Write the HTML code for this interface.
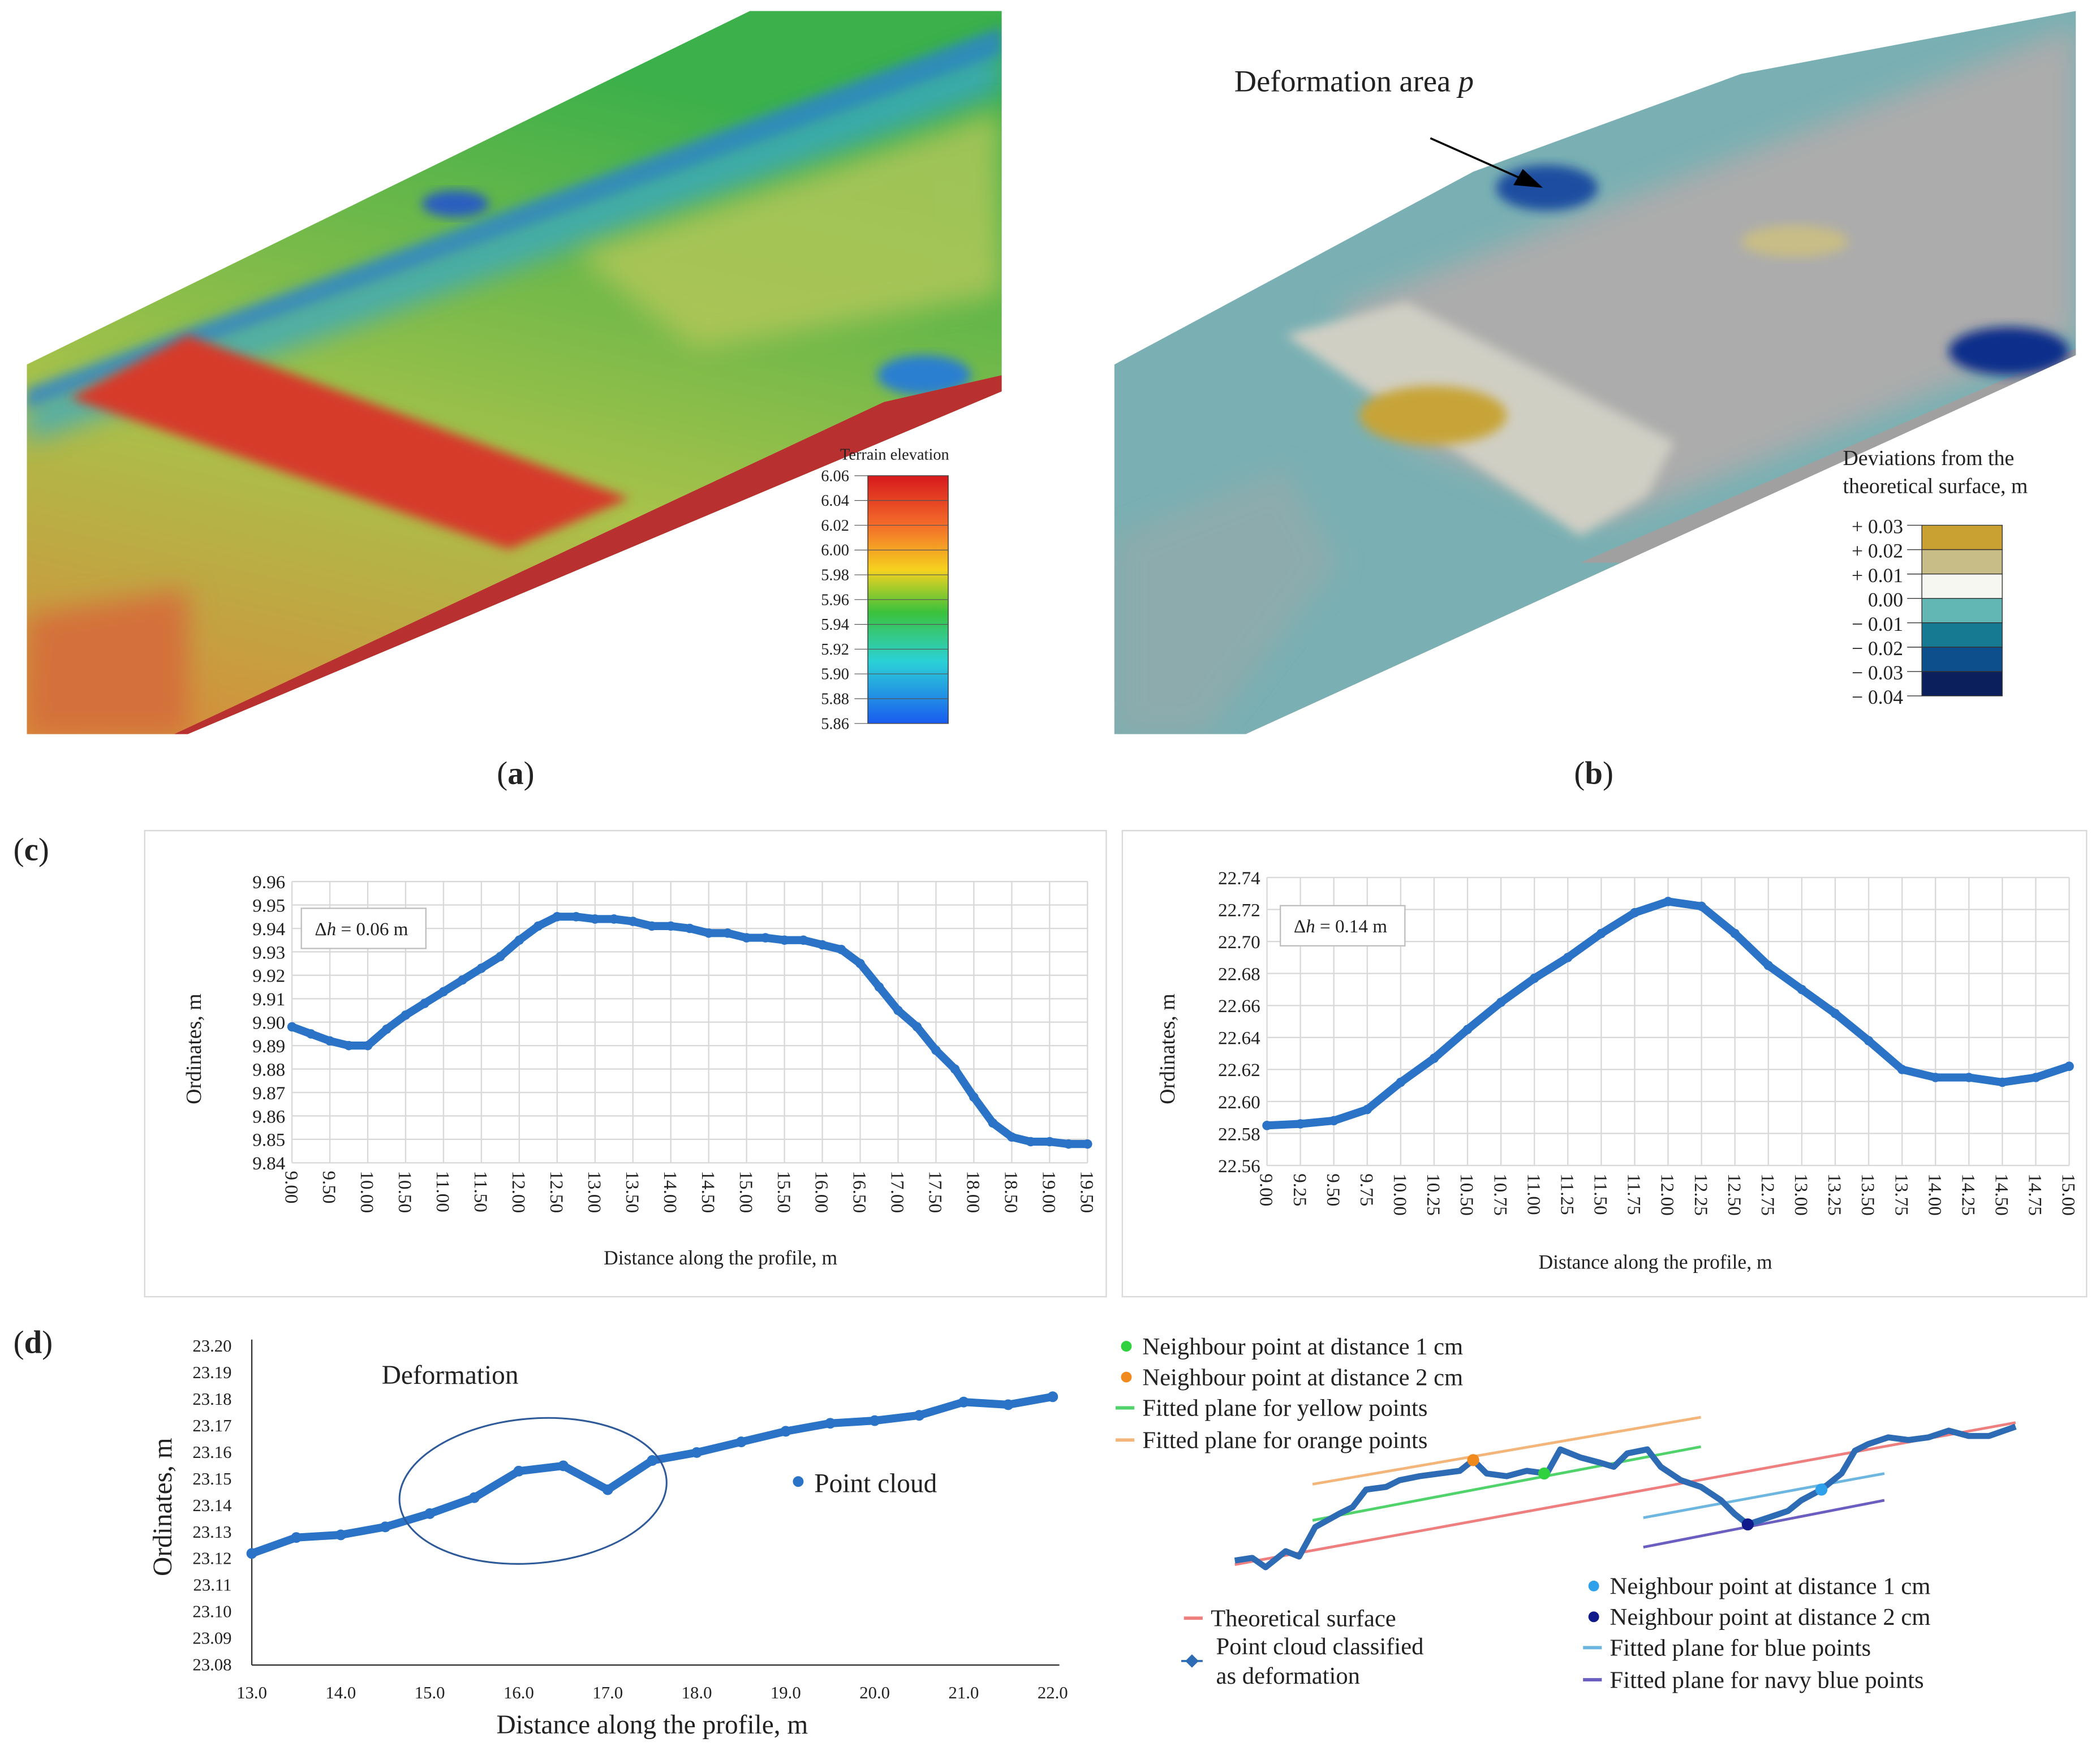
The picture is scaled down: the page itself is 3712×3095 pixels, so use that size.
<!DOCTYPE html>
<html><head><meta charset="utf-8"><style>
html,body{margin:0;padding:0;background:#fff}
svg{display:block}
text{font-family:"Liberation Serif",serif;fill:#222}
</style></head><body>
<svg id="root" width="3712" height="3095" viewBox="0 0 1568 1307" xmlns="http://www.w3.org/2000/svg">
<defs>
<filter id="bl" x="-20%" y="-20%" width="140%" height="140%"><feGaussianBlur stdDeviation="10"/></filter>
<filter id="bl2" x="-20%" y="-20%" width="140%" height="140%"><feGaussianBlur stdDeviation="4"/></filter>
<clipPath id="clipA"><polygon points="20,272 560,8 748,8 748,292 140,548 20,548"/></clipPath>
<clipPath id="clipB"><polygon points="832,272 1100,128 1300,55 1550,8 1550,265 930,548 832,548"/></clipPath>
<linearGradient id="gA" x1="0" y1="1" x2="0.3" y2="0"><stop offset="0" stop-color="#d98a3a"/><stop offset="0.45" stop-color="#a8c24a"/><stop offset="1" stop-color="#3cb04a"/></linearGradient>
<linearGradient id="cbar" x1="0" y1="0" x2="0" y2="1"><stop offset="0" stop-color="#d7191c"/><stop offset="0.2" stop-color="#f46d2a"/><stop offset="0.38" stop-color="#f5d21e"/><stop offset="0.55" stop-color="#3cc23c"/><stop offset="0.75" stop-color="#2bd1d6"/><stop offset="1" stop-color="#1a5cf0"/></linearGradient>
</defs>

<!-- Panel a -->
<g clip-path="url(#clipA)">
<rect x="20" y="8" width="728" height="540" fill="url(#gA)"/>
<polygon points="20,300 748,30 748,70 20,330" fill="#3aa9c4" filter="url(#bl)" opacity="0.8"/>
<polygon points="20,290 748,20 748,40 20,305" fill="#2c7fd0" filter="url(#bl2)" opacity="0.7"/>
<ellipse cx="340" cy="152" rx="25" ry="10" fill="#2b5fc0" filter="url(#bl2)"/>
<ellipse cx="690" cy="280" rx="35" ry="15" fill="#2b7fd0" filter="url(#bl2)"/>
<polygon points="430,190 748,80 748,220 520,260" fill="#b7c85a" filter="url(#bl)" opacity="0.8"/>
<polygon points="52,297 140,250 470,372 380,410" fill="#d63a2a" filter="url(#bl2)"/>
<polygon points="20,460 140,440 140,548 20,548" fill="#d4703a" filter="url(#bl)"/>
<polygon points="130,548 210,548 748,305 748,280 660,300" fill="#b83030"/>
</g>
<g>
<text x="668" y="343" font-size="12" text-anchor="middle" fill="#1f3f7a">Terrain elevation</text>
<rect x="648" y="355" width="60" height="185" fill="url(#cbar)" stroke="#333" stroke-width="0.6"/>
<g id="cbarTicks"></g>
</g>
<text x="385" y="585" font-size="24" text-anchor="middle">(<tspan font-weight="bold">a</tspan>)</text>

<!-- Panel b -->
<g clip-path="url(#clipB)">
<rect x="832" y="8" width="718" height="540" fill="#7ab0b3"/>
<polygon points="1000,230 1550,20 1550,250 1200,390 1050,330" fill="#acacac" filter="url(#bl)"/>
<polygon points="832,400 960,350 1000,420 900,548 832,548" fill="#9aa9a9" filter="url(#bl)" opacity="0.6"/>
<polygon points="1180,420 1550,260 1550,265 1250,420" fill="#a0a0a0"/>
<polygon points="960,250 1050,225 1250,330 1230,370 1180,400" fill="#d0cfc4" filter="url(#bl2)"/>
<ellipse cx="1070" cy="310" rx="55" ry="22" fill="#c8a438" filter="url(#bl2)"/>
<ellipse cx="1155" cy="140" rx="38" ry="17" fill="#1a4ea0" filter="url(#bl2)"/>
<ellipse cx="1500" cy="262" rx="45" ry="18" fill="#0d2e8a" filter="url(#bl2)"/>
<ellipse cx="1340" cy="180" rx="40" ry="12" fill="#c8bd86" filter="url(#bl2)"/>
<polygon points="930,548 1550,265 1550,280 980,548" fill="#b89a50"/>
</g>
<text x="1011" y="68" font-size="23" text-anchor="middle">Deformation area <tspan font-style="italic">p</tspan></text>
<line x1="1068" y1="103" x2="1140" y2="135" stroke="#000" stroke-width="1.5"/>
<polygon points="1152,140 1130,138 1137,126" fill="#000"/>
<g>
<text x="1376" y="347" font-size="16">Deviations from the</text>
<text x="1376" y="368" font-size="16">theoretical surface, m</text>
<g id="devLegend"></g>
</g>
<text x="1190" y="585" font-size="24" text-anchor="middle">(<tspan font-weight="bold">b</tspan>)</text>

<!-- Panel c -->
<text x="10" y="642" font-size="24">(<tspan font-weight="bold">c</tspan>)</text>
<rect x="108" y="620" width="718" height="348" fill="#fff" stroke="#d9d9d9"/>
<rect x="838" y="620" width="720" height="348" fill="#fff" stroke="#d9d9d9"/>
<g id="chartC1"></g>
<g id="chartC2"></g>

<!-- Panel d -->
<text x="10" y="1010" font-size="24">(<tspan font-weight="bold">d</tspan>)</text>
<g id="chartD"></g>
<g id="schematic"></g>
</svg>
<script>
// ---- data ----
const c1X = [9.0,9.25,9.5,9.75,10.0,10.25,10.5,10.75,11.0,11.25,11.5,11.75,12.0,12.25,12.5,12.75,13.0,13.25,13.5,13.75,14.0,14.25,14.5,14.75,15.0,15.25,15.5,15.75,16.0,16.25,16.5,16.75,17.0,17.25,17.5,17.75,18.0,18.25,18.5,18.75,19.0,19.25,19.5];
const c1Y = [9.898,9.895,9.892,9.890,9.890,9.897,9.903,9.908,9.913,9.918,9.923,9.928,9.935,9.941,9.945,9.945,9.944,9.944,9.943,9.941,9.941,9.940,9.938,9.938,9.936,9.936,9.935,9.935,9.933,9.931,9.925,9.915,9.905,9.898,9.888,9.880,9.868,9.857,9.851,9.849,9.849,9.848,9.848];
const c1XTicks = ["9.00","9.50","10.00","10.50","11.00","11.50","12.00","12.50","13.00","13.50","14.00","14.50","15.00","15.50","16.00","16.50","17.00","17.50","18.00","18.50","19.00","19.50"];
const c1YTicks = ["9.84","9.85","9.86","9.87","9.88","9.89","9.90","9.91","9.92","9.93","9.94","9.95","9.96"];
const c2X = [9.0,9.25,9.5,9.75,10.0,10.25,10.5,10.75,11.0,11.25,11.5,11.75,12.0,12.25,12.5,12.75,13.0,13.25,13.5,13.75,14.0,14.25,14.5,14.75,15.0];
const c2Y = [22.585,22.586,22.588,22.595,22.612,22.627,22.645,22.662,22.677,22.690,22.705,22.718,22.725,22.722,22.705,22.685,22.670,22.655,22.638,22.620,22.615,22.615,22.612,22.615,22.622];
const c2XTicks = ["9.00","9.25","9.50","9.75","10.00","10.25","10.50","10.75","11.00","11.25","11.50","11.75","12.00","12.25","12.50","12.75","13.00","13.25","13.50","13.75","14.00","14.25","14.50","14.75","15.00"];
const c2YTicks = ["22.56","22.58","22.60","22.62","22.64","22.66","22.68","22.70","22.72","22.74"];
const dX = [13.0,13.5,14.0,14.5,15.0,15.5,16.0,16.5,17.0,17.5,18.0,18.5,19.0,19.5,20.0,20.5,21.0,21.5,22.0];
const dY = [23.122,23.128,23.129,23.132,23.137,23.143,23.153,23.155,23.146,23.157,23.160,23.164,23.168,23.171,23.172,23.174,23.179,23.178,23.181];
const dXTicks = ["13.0","14.0","15.0","16.0","17.0","18.0","19.0","20.0","21.0","22.0"];
const dYTicks = ["23.08","23.09","23.10","23.11","23.12","23.13","23.14","23.15","23.16","23.17","23.18","23.19","23.20"];
const elevLabels = ["6.06","6.04","6.02","6.00","5.98","5.96","5.94","5.92","5.90","5.88","5.86"];
const devLabels = ["+ 0.03","+ 0.02","+ 0.01","0.00","\u2212 0.01","\u2212 0.02","\u2212 0.03","\u2212 0.04"];
const devColors = ["#c9a032","#c8bd86","#f7f7f2","#62b6b4","#167a92","#0c4f8c","#0a1f5c"];

const NS="http://www.w3.org/2000/svg";
function mk(tag,attrs,parent){const e=document.createElementNS(NS,tag);for(const k in attrs)e.setAttribute(k,attrs[k]);parent.appendChild(e);return e;}
function txt(s,attrs,parent){const e=mk('text',attrs,parent);e.textContent=s;return e;}

const cbt=document.getElementById('cbarTicks');
elevLabels.forEach((l,i)=>{const y=355+i*18.5;
 const t=txt(l,{x:634,y:y+4,'font-size':12,'text-anchor':'end',fill:'#1f3f7a'},cbt);
 
 
 mk('line',{x1:638,y1:y,x2:708,y2:y,stroke:'#555','stroke-width':0.5},cbt);});
const dl=document.getElementById('devLegend');
devColors.forEach((c,i)=>{const r=mk('rect',{x:1435,y:392+i*18.2,width:60,height:18.2,fill:c,stroke:'#333','stroke-width':0.6},dl);
 
 });
devLabels.forEach((l,i)=>{const t=txt(l,{x:1421,y:398+i*18.2,'font-size':15,'text-anchor':'end'},dl);
 
 
 mk('line',{x1:1424,y1:392+i*18.2,x2:1435,y2:392+i*18.2,stroke:'#333','stroke-width':0.6},dl);});

function gridChart(g,o){
 const xs=v=>o.x0+(v-o.xmin)/(o.xmax-o.xmin)*(o.x1-o.x0);
 const ys=v=>o.y0-(v-o.ymin)/(o.ymax-o.ymin)*(o.y0-o.y1);
 o.yTicks.forEach(l=>{const y=ys(parseFloat(l));
  mk('line',{x1:o.x0,y1:y,x2:o.x1,y2:y,stroke:'#d9d9d9','stroke-width':1},g);
  const t=txt(l,{x:o.x0-5,y:y+5,'font-size':14,'text-anchor':'end'},g);
  
  });
 o.xTicks.forEach(l=>{const x=xs(parseFloat(l));
  mk('line',{x1:x,y1:o.y1,x2:x,y2:o.y0,stroke:'#d9d9d9','stroke-width':1},g);
  const t=txt(l,{x:x-5,y:o.y0+6,'font-size':14,'text-anchor':'start',transform:`rotate(90 ${x-5} ${o.y0+6})`},g);
  
  });
 const pts=o.X.map((v,i)=>xs(v)+','+ys(o.Y[i])).join(' ');
 const pl=mk('polyline',{points:pts,fill:'none',stroke:'#2a73c6','stroke-width':6,'stroke-linejoin':'round','stroke-linecap':'round'},g);
 
 
 o.X.forEach((v,i)=>{const c=mk('circle',{cx:xs(v),cy:ys(o.Y[i]),r:3.5,fill:'#2a73c6'},g);
  
  });
 const b=mk('rect',{x:o.bx,y:o.by,width:93,height:30,fill:'#fff',stroke:'#bfbfbf'},g);
 
 
 const dt=txt('',{x:o.bx+10,y:o.by+20,'font-size':14},g);
 dt.innerHTML='Δ<tspan font-style="italic">h</tspan> = '+o.dh+' m';
 const yl=txt('Ordinates, m',{x:o.ylx,y:783,'font-size':16,'text-anchor':'middle',transform:`rotate(-90 ${o.ylx} 783)`},g);
 
 
 const xl=txt('Distance along the profile, m',{x:o.xlx,y:o.xly,'font-size':15,'text-anchor':'middle'},g);
 
 
}
gridChart(document.getElementById('chartC1'),{X:c1X,Y:c1Y,xTicks:c1XTicks,yTicks:c1YTicks,xmin:9,xmax:19.5,ymin:9.84,ymax:9.96,x0:218,x1:812,y0:868,y1:658,bx:225,by:678,dh:'0.06',ylx:150,xlx:538,xly:944});
gridChart(document.getElementById('chartC2'),{X:c2X,Y:c2Y,xTicks:c2XTicks,yTicks:c2YTicks,xmin:9,xmax:15,ymin:22.56,ymax:22.74,x0:946,x1:1545,y0:870,y1:655,bx:956,by:676,dh:'0.14',ylx:877,xlx:1236,xly:947});

(function(){
 const g=document.getElementById('chartD');
 const x0=188,x1=786,y0=1243,y1=1005;
 const xs=v=>x0+(v-13)/(22-13)*(x1-x0);
 const ys=v=>y0-(v-23.08)/(0.12)*(y0-y1);
 mk('line',{x1:x0,y1:y1-5,x2:x0,y2:y0,stroke:'#333','stroke-width':1},g);
 mk('line',{x1:x0,y1:y0,x2:x1+5,y2:y0,stroke:'#333','stroke-width':1},g);
 dYTicks.forEach(l=>{const t=txt(l,{x:x0-15,y:ys(parseFloat(l))+4,'font-size':13,'text-anchor':'end'},g);
  
  });
 dXTicks.forEach(l=>{const t=txt(l,{x:xs(parseFloat(l)),y:y0+25,'font-size':13,'text-anchor':'middle'},g);
  
  });
 const pl=mk('polyline',{points:dX.map((v,i)=>xs(v)+','+ys(dY[i])).join(' '),fill:'none',stroke:'#2a73c6','stroke-width':6,'stroke-linejoin':'round'},g);
 
 
 dX.forEach((v,i)=>{const c=mk('circle',{cx:xs(v),cy:ys(dY[i]),r:4,fill:'#2a73c6'},g);
  
  });
 const e=mk('ellipse',{cx:398,cy:1113,rx:100,ry:54,fill:'none',stroke:'#2e5a9a','stroke-width':1.3,transform:'rotate(-5 398 1113)'},g);
 
 
 txt('Deformation',{x:285,y:1033,'font-size':20},g);
 mk('circle',{cx:596,cy:1106,r:4,fill:'#2a73c6'},g);
 const lg=txt('Point cloud',{x:608,y:1114,'font-size':20},g);
 
 
 const yl=txt('Ordinates, m',{x:128,y:1125,'font-size':20,'text-anchor':'middle',transform:'rotate(-90 128 1125)'},g);
 
 
 const xl=txt('Distance along the profile, m',{x:487,y:1294,'font-size':20,'text-anchor':'middle'},g);
 
 
})();

(function(){
 const g=document.getElementById('schematic');
 const lines=[["#f3b57a",980,1108,1270,1058],["#4fd36a",980,1135,1270,1080],["#ef7f7f",922,1168,1505,1062],["#6cb6e0",1227,1133,1407,1100],["#6a5fc0",1227,1155,1407,1120]];
 lines.forEach(l=>{const e=mk('line',{x1:l[1],y1:l[2],x2:l[3],y2:l[4],stroke:l[0],'stroke-width':2},g);
  
  });
 const cloud="922,1165 935,1163 945,1170 960,1158 970,1162 982,1140 1000,1130 1010,1125 1020,1112 1035,1110 1045,1105 1060,1102 1075,1100 1090,1098 1100,1090 1110,1100 1125,1102 1140,1098 1155,1100 1165,1082 1180,1088 1195,1092 1205,1095 1215,1085 1230,1082 1240,1095 1255,1105 1270,1110 1285,1120 1295,1130 1305,1138 1320,1133 1335,1128 1345,1120 1360,1112 1375,1100 1385,1083 1395,1078 1410,1073 1425,1075 1440,1073 1455,1068 1470,1072 1485,1072 1505,1065";
 const pl=mk('polyline',{points:cloud,fill:'none',stroke:'#2d6bb5','stroke-width':4.5,'stroke-linejoin':'round'},g);
 
 
 [["#f08a1e",1100,1090],["#2fd13f",1153,1100],["#2fa0ea",1360,1112],["#101a8a",1305,1138]].forEach(p=>mk('circle',{cx:p[1],cy:p[2],r:4.5,fill:p[0]},g));
 const leg=[["dot","#2fd13f",841,1005,"Neighbour point at distance 1 cm"],["dot","#f08a1e",841,1028,"Neighbour point at distance 2 cm"],["line","#4fd36a",841,1051,"Fitted plane for yellow points"],["line","#f3b57a",841,1075,"Fitted plane for orange points"],
  ["dot","#2fa0ea",1190,1184,"Neighbour point at distance 1 cm"],["dot","#101a8a",1190,1207,"Neighbour point at distance 2 cm"],["line","#6cb6e0",1190,1230,"Fitted plane for blue points"],["line","#6a5fc0",1190,1254,"Fitted plane for navy blue points"],
  ["line","#ef7f7f",892,1208,"Theoretical surface"]];
 leg.forEach(l=>{
  if(l[0]=="dot") mk('circle',{cx:l[2],cy:l[3],r:4,fill:l[1]},g);
  else mk('line',{x1:l[2]-8,y1:l[3],x2:l[2]+6,y2:l[3],stroke:l[1],'stroke-width':2.5},g);
  const t=txt(l[4],{x:l[2]+12,y:l[3]+6,'font-size':18},g);
  
  });
 mk('line',{x1:882,y1:1240,x2:898,y2:1240,stroke:'#2d6bb5','stroke-width':1.5},g);
 mk('polygon',{points:'890,1235 895,1240 890,1245 885,1240',fill:'#2d6bb5'},g);
 const t1=txt('Point cloud classified',{x:908,y:1235,'font-size':18},g);
 
 
 txt('as deformation',{x:908,y:1257,'font-size':18},g);
})();
</script>
</body></html>
